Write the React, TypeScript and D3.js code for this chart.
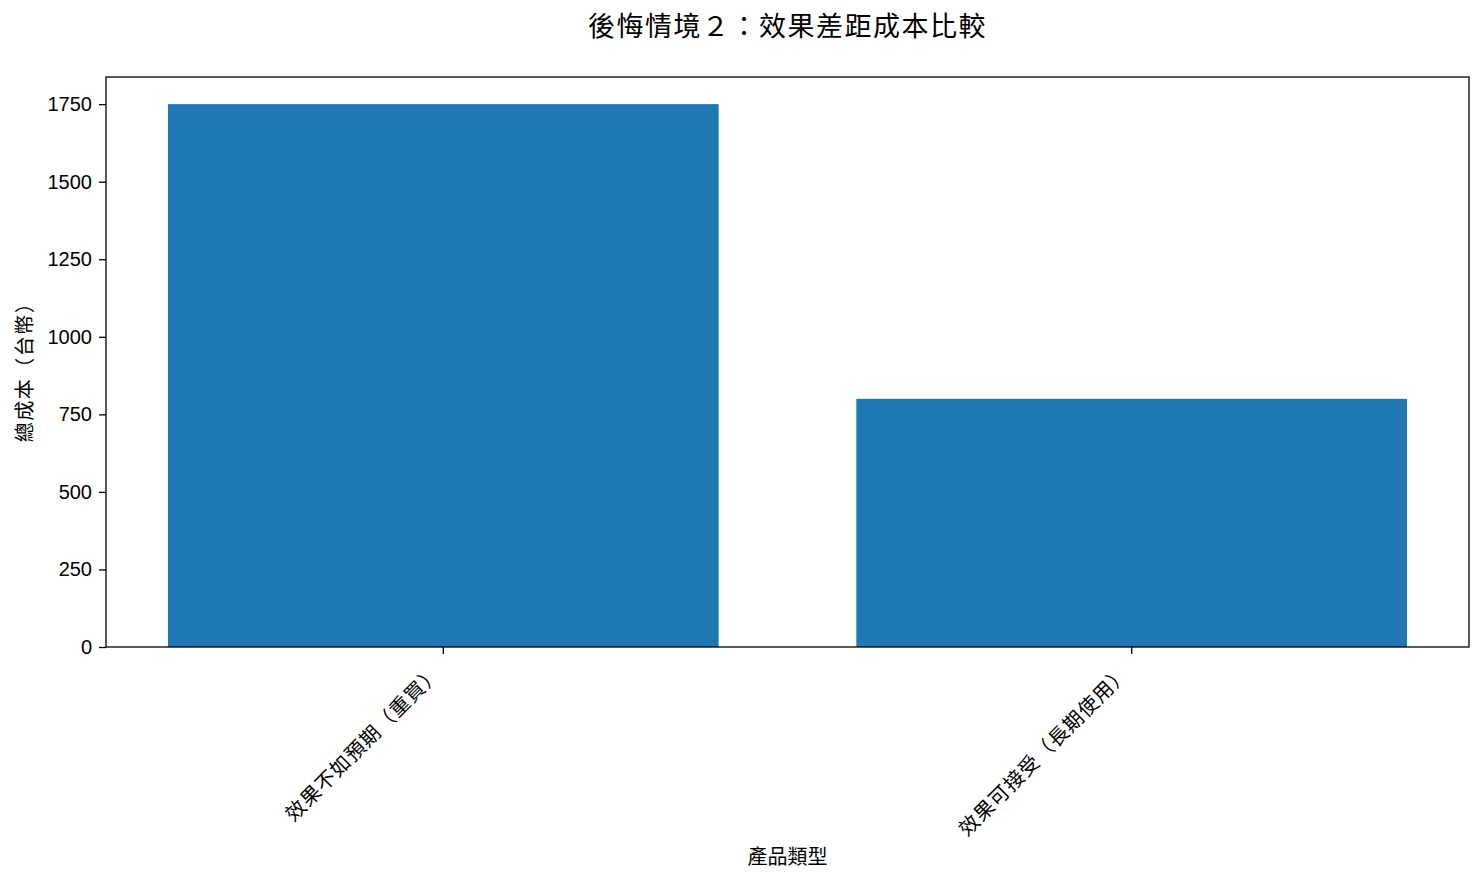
import React, { useEffect, useRef } from 'react';
import * as d3 from 'd3';

const categories = ['效果不如預期（重買）', '效果可接受（長期使用）'];
const costs = [1750, 800];
const yTicks = [0, 250, 500, 750, 1000, 1250, 1500, 1750];

const TITLE = '後悔情境２：效果差距成本比較';
const X_LABEL = '產品類型';
const Y_LABEL = '總成本（台幣）';

const FONT = '"Liberation Sans", Arial, "Noto Sans CJK TC", sans-serif';

export default function App() {
  const svgRef = useRef<SVGSVGElement>(null);

  useEffect(() => {
    document.body.style.margin = '0';
    if (!svgRef.current) return;
    const svg = d3.select(svgRef.current);
    svg.selectAll('*').remove();

    const width = 1484;
    const height = 882;
    const m = { left: 106, right: 1469, top: 77, bottom: 647 };

    // matplotlib-like limits: bars of width 0.8, 5% margins
    const xs = d3.scaleLinear().domain([-0.49, 1.49]).range([m.left, m.right]);
    const ys = d3.scaleLinear().domain([0, d3.max(costs)! * 1.05]).range([m.bottom, m.top]);

    svg.attr('width', width).attr('height', height).style('font-family', FONT);

    svg.append('rect').attr('width', width).attr('height', height).attr('fill', '#fff');

    // bars
    svg.append('g')
      .selectAll('rect')
      .data(costs)
      .join('rect')
      .attr('x', (_, i) => xs(i - 0.4))
      .attr('width', xs(0.4) - xs(-0.4))
      .attr('y', d => ys(d))
      .attr('height', d => ys(0) - ys(d))
      .attr('fill', '#1f77b4');

    // frame
    svg.append('rect')
      .attr('x', m.left)
      .attr('y', m.top)
      .attr('width', m.right - m.left)
      .attr('height', m.bottom - m.top)
      .attr('fill', 'none')
      .attr('stroke', '#000')
      .attr('stroke-width', 1.3);

    // y axis
    const yAxis = svg.append('g')
      .attr('transform', `translate(${m.left},0)`)
      .call(d3.axisLeft(ys).tickValues(yTicks).tickSize(7).tickPadding(7).tickFormat(d3.format('d')));
    yAxis.select('.domain').remove();
    yAxis.selectAll('line').attr('stroke', '#000').attr('stroke-width', 1.3);
    yAxis.selectAll('text').attr('fill', '#000').style('font-size', '20px').style('font-family', FONT);

    // x axis ticks
    const xg = svg.append('g');
    xg.selectAll('line')
      .data(categories)
      .join('line')
      .attr('x1', (_, i) => xs(i))
      .attr('x2', (_, i) => xs(i))
      .attr('y1', m.bottom)
      .attr('y2', m.bottom + 7)
      .attr('stroke', '#000')
      .attr('stroke-width', 1.3);

    xg.selectAll('text')
      .data(categories)
      .join('text')
      .attr('transform', (_, i) => `translate(${xs(i) - 1},${m.bottom + 27}) rotate(-45)`)
      .attr('text-anchor', 'end')
      .style('font-size', '20px')
      .style('letter-spacing', '1px')
      .attr('fill', '#000')
      .text(d => d);

    // labels
    svg.append('text')
      .attr('x', (m.left + m.right) / 2)
      .attr('y', 36)
      .attr('text-anchor', 'middle')
      .style('font-size', '27px')
      .style('letter-spacing', '1.5px')
      .attr('fill', '#000')
      .text(TITLE);

    svg.append('text')
      .attr('x', (m.left + m.right) / 2)
      .attr('y', 864)
      .attr('text-anchor', 'middle')
      .style('font-size', '20px')
      .attr('fill', '#000')
      .text(X_LABEL);

    svg.append('text')
      .attr('transform', `translate(32,${(m.top + m.bottom) / 2 + 5}) rotate(-90)`)
      .attr('text-anchor', 'middle')
      .style('font-size', '20px')
      .style('letter-spacing', '1.5px')
      .attr('fill', '#000')
      .text(Y_LABEL);
  }, []);

  return <svg ref={svgRef}></svg>;
}
